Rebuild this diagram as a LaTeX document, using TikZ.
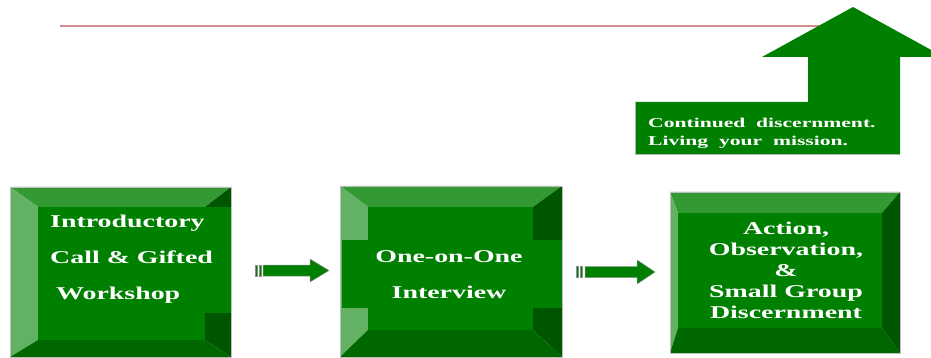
\documentclass[tikz,border=0pt]{standalone}
\usepackage{fontspec}
\usepackage{tikz}
\usetikzlibrary{calc,positioning}
\newfontfamily\slidefont{Liberation Serif}[FakeStretch=1.55]
\newfontfamily\notefont{Liberation Serif}[FakeStretch=1.6]
\definecolor{facegreen}{RGB}{0,128,0}
\definecolor{topgreen}{RGB}{51,153,51}
\definecolor{leftgreen}{RGB}{99,178,99}
\definecolor{rightgreen}{RGB}{0,85,0}
\definecolor{bottomgreen}{RGB}{0,102,0}
\definecolor{ruleline}{RGB}{214,140,140}

% outer L,T,R,B ; inner l,t,r,b
\newcommand{\bevelbox}[8]{%
  \fill[topgreen] (#1,#2) -- (#3,#2) -- (#7,#6) -- (#5,#6) -- cycle;
  \fill[leftgreen] (#1,#2) -- (#5,#6) -- (#5,#8) -- (#1,#4) -- cycle;
  \fill[rightgreen] (#3,#2) -- (#7,#6) -- (#7,#8) -- (#3,#4) -- cycle;
  \fill[bottomgreen] (#1,#4) -- (#5,#8) -- (#7,#8) -- (#3,#4) -- cycle;
  \fill[facegreen] (#5,#6) rectangle (#7,#8);
}

\begin{document}
\begin{tikzpicture}[x=1pt, y=-1pt,
  boxtext/.style={text=white, align=center, inner sep=0pt,
    font=\slidefont\bfseries\fontsize{18}{36}\selectfont},
  notetext/.style={text=white, align=left, inner sep=0pt,
    font=\notefont\bfseries\fontsize{13.5}{18}\selectfont},
  blockarrow/.style={fill=facegreen, draw=black!45, line width=0.5pt},
  edgeline/.style={draw=black!25, line width=0.6pt}]
\useasboundingbox (0,0) rectangle (931,358);

% rule under the title
\draw[ruleline, line width=1.2pt] (60,26) -- (850,26);

% up arrow
\fill[facegreen] (635,102) -- (808,102) -- (808,57) -- (762,57) -- (853,7)
  -- (944,57) -- (900,57) -- (900,154) -- (635,154) -- cycle;
\draw[black!30, line width=0.6pt] (635,102) -- (635,154) -- (900,154);
\node[notetext, anchor=north west] (mission) at (648,118)
  {Continued\ \ discernment.\\Living\ \ your\ \ mission.};

% first box
\bevelbox{10}{187}{231}{357}{38}{207}{205}{340}
\fill[facegreen] (205,207) rectangle (231,313);
\draw[edgeline] (10,187) rectangle (231,357);
\node[boxtext, align=left, anchor=west] (intro) at (50,259)
  {Introductory\\Call \& Gifted\\\hspace*{6pt}Workshop};

% second box
\bevelbox{340}{186}{562}{357}{368}{207}{533}{330}
\fill[facegreen] (342,240) rectangle (562,308);
\draw[edgeline] (340,186) rectangle (562,357);
\node[boxtext] (interview) at (449,275) {One-on-One\\Interview};

% third box
\bevelbox{670}{192}{900}{353}{678}{213}{882}{328}
\draw[edgeline] (670,192) rectangle (900,353);
\node[boxtext, font=\slidefont\bfseries\fontsize{18}{21}\selectfont]
  (action) at (786,270) {Action,\\Observation,\\\&\\Small Group\\Discernment};

% striped arrows
\coordinate (tail1) at (255,270.5);
\coordinate (tail2) at (576,272);
\filldraw[blockarrow] ($(tail1)+(0,-5.5)$) rectangle ++(2.5,11);
\filldraw[blockarrow] ($(tail1)+(4,-5.5)$) rectangle ++(2.5,11);
\filldraw[blockarrow] ($(tail1)+(8,-5.5)$) -- ++(47,0) -- ++(0,-6)
  -- ($(tail1)+(74,0)$) -- ++(-19,11.5) -- ++(0,-6) -- ($(tail1)+(8,5.5)$) -- cycle;
\filldraw[blockarrow] ($(tail2)+(0,-5.5)$) rectangle ++(2.5,11);
\filldraw[blockarrow] ($(tail2)+(4,-5.5)$) rectangle ++(2.5,11);
\filldraw[blockarrow] ($(tail2)+(9,-5.5)$) -- ++(52,0) -- ++(0,-6.5)
  -- ($(tail2)+(79,0)$) -- ++(-18,12) -- ++(0,-6.5) -- ($(tail2)+(9,5.5)$) -- cycle;
\end{tikzpicture}
\end{document}
